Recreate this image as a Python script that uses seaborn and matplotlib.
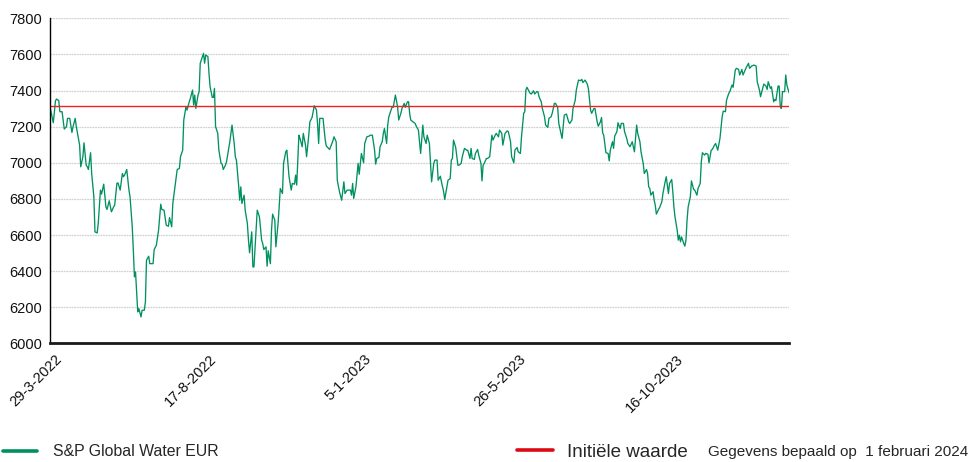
import pandas as pd
import seaborn as sns
import matplotlib.pyplot as plt
from matplotlib.lines import Line2D
from matplotlib.transforms import ScaledTranslation

days_2022a = [0, 3, 5, 6, 8, 9, 11, 13, 15, 16, 18, 20, 21, 23, 24, 27, 28, 30, 31, 33, 34, 35, 37, 38,
              40, 41, 43, 44, 46, 47, 49, 51, 52, 54, 56, 58, 59, 61, 62, 64, 66, 67, 68, 70, 72, 73,
              75, 76, 77, 78, 80, 81, 83, 84, 86, 87, 88, 90, 91, 94, 95, 97, 99, 101, 102, 104, 106,
              108, 109, 111, 112, 115, 116, 118, 119, 121, 122, 124, 125, 127, 128, 130, 131, 132, 133,
              135, 136, 137, 139, 140, 141, 142, 144, 145, 146, 148, 149, 150, 151, 153, 154, 156, 157,
              158, 160, 161, 164]
vals_2022a = [7310, 7222, 7344, 7353, 7344, 7283, 7283, 7187, 7200, 7246, 7246, 7168, 7200, 7246, 7200,
              7098, 6978, 7034, 7111, 6987, 6978, 6963, 7056, 6941, 6812, 6618, 6612, 6664, 6849, 6827,
              6882, 6756, 6742, 6790, 6729, 6756, 6766, 6886, 6889, 6849, 6941, 6923, 6932, 6963, 6849,
              6812, 6646, 6516, 6369, 6396, 6175, 6193, 6147, 6184, 6184, 6230, 6461, 6483, 6442, 6442,
              6520, 6544, 6627, 6771, 6742, 6738, 6655, 6649, 6697, 6646, 6775, 6913, 6963, 6969, 7034,
              7070, 7237, 7311, 7292, 7338, 7357, 7403, 7320, 7375, 7301, 7375, 7394, 7551, 7588, 7606,
              7551, 7597, 7588, 7495, 7421, 7362, 7362, 7412, 7200, 7163, 7070, 6997, 6993, 6963, 6987,
              7006, 7117]

days_2022b = [166, 168, 169, 170, 172, 173, 174, 175, 177, 178, 180, 181, 182, 184, 185, 186, 188, 189,
              191, 193, 194, 195, 197, 198, 199, 201, 202, 203, 205, 206, 208, 209, 210, 212, 213, 215,
              216, 218, 220, 221, 223, 224, 225, 227, 228, 230, 231, 233, 234, 236, 237, 239, 240, 241,
              243, 244, 245, 246, 247, 249, 251, 252, 254, 255, 257, 258, 259, 261, 262, 264, 266, 268,
              269, 271, 272, 274, 275, 276, 277, 279, 281, 282, 284, 286, 287, 289, 291, 292, 294, 296,
              297, 298, 300, 301, 303, 304, 305, 307, 308, 309]
vals_2022b = [7209, 7107, 7034, 7015, 6877, 6793, 6867, 6775, 6821, 6738, 6664, 6572, 6502, 6618, 6424,
              6424, 6627, 6738, 6701, 6572, 6553, 6520, 6535, 6428, 6513, 6442, 6627, 6716, 6683, 6535,
              6664, 6756, 6858, 6830, 6997, 7061, 7070, 6923, 6849, 6886, 6882, 6932, 6877, 7153, 7135,
              7089, 7163, 7098, 7034, 7153, 7227, 7251, 7283, 7316, 7292, 7218, 7107, 7246, 7246, 7246,
              7126, 7093, 7080, 7074, 7107, 7122, 7144, 7117, 6904, 6840, 6793, 6895, 6830, 6849, 6849,
              6849, 6821, 6886, 6803, 6867, 6997, 6937, 7052, 7000, 7107, 7144, 7148, 7153, 7153, 7070,
              6993, 7024, 7030, 7089, 7117, 7163, 7190, 7107, 7209, 7255]

days_2023a = [312, 313, 315, 317, 318, 320, 321, 323, 324, 326, 327, 328, 329, 331, 333, 334, 336, 338,
              339, 340, 341, 343, 344, 346, 347, 348, 350, 351, 353, 354, 356, 357, 359, 360, 362, 363,
              365, 366, 367, 368, 370, 372, 373, 375, 376, 378, 380, 381, 383, 384, 385, 387, 388, 390,
              391, 393, 394, 395, 396, 398, 399, 401, 403, 404, 406, 407, 409, 410, 412, 413, 415, 417,
              418, 420, 421, 423, 424, 426, 427, 429, 430, 432, 433, 434, 435, 437, 438, 439, 441, 442,
              444, 445, 446, 448, 449, 451, 452, 454, 455, 457, 458, 460, 461, 463, 464, 466, 467, 468,
              469, 471, 473, 474, 476, 477, 479, 480, 482, 484, 485, 486, 488, 490, 491]
vals_2023a = [7310, 7307, 7375, 7310, 7237, 7274, 7301, 7329, 7307, 7338, 7338, 7274, 7237, 7227, 7218,
              7203, 7181, 7052, 7126, 7209, 7144, 7107, 7153, 7107, 6997, 6895, 6997, 7015, 7015, 6904,
              6926, 6895, 6840, 6797, 6867, 6904, 6913, 7015, 7024, 7126, 7085, 6987, 6987, 6997, 7034,
              7080, 7070, 7070, 7024, 7080, 7024, 7019, 7052, 7074, 7043, 6997, 6900, 6987, 6997, 7024,
              7024, 7034, 7153, 7126, 7153, 7163, 7144, 7181, 7163, 7098, 7163, 7177, 7172, 7117, 7034,
              7000, 7070, 7085, 7061, 7052, 7144, 7274, 7283, 7403, 7418, 7394, 7384, 7381, 7399, 7381,
              7394, 7394, 7366, 7338, 7301, 7255, 7209, 7196, 7246, 7255, 7274, 7329, 7329, 7307, 7218,
              7163, 7135, 7200, 7264, 7270, 7227, 7218, 7237, 7301, 7347, 7403, 7458, 7455, 7462, 7444,
              7458, 7436, 7412]

days_2023b = [493, 494, 496, 497, 499, 500, 502, 503, 504, 505, 507, 509, 510, 511, 513, 514, 515, 517,
              518, 520, 521, 523, 524, 526, 527, 529, 531, 532, 533, 535, 536, 538, 539, 541, 542, 544,
              545, 546, 547, 548, 550, 551, 552, 553, 555, 556, 558, 559, 561, 562, 563, 564, 565, 567,
              568, 569, 570, 572, 573, 574, 575, 576, 578, 579, 580, 581, 582, 584, 585, 587, 588, 590,
              591, 593, 594, 595, 597, 598, 600, 601, 603, 604, 606, 607, 609, 611, 613, 614, 616, 617,
              619, 620, 622, 623, 625, 626, 628, 629, 631, 632, 634, 635, 637, 638, 640, 642, 644, 645,
              647, 648, 650, 651, 653, 654, 655, 657, 658, 660, 661, 662, 664, 665, 666, 667, 668, 670,
              671, 672, 674]
vals_2023b = [7292, 7274, 7300, 7301, 7227, 7203, 7227, 7251, 7166, 7153, 7056, 7052, 7011, 7070, 7117,
              7080, 7148, 7172, 7222, 7190, 7218, 7218, 7172, 7135, 7107, 7089, 7117, 7089, 7061, 7209,
              7163, 7117, 7061, 6997, 6941, 6963, 6941, 6867, 6858, 6821, 6840, 6793, 6766, 6716, 6742,
              6753, 6784, 6830, 6895, 6923, 6877, 6830, 6886, 6908, 6840, 6756, 6701, 6627, 6572, 6599,
              6563, 6590, 6553, 6539, 6572, 6683, 6756, 6812, 6900, 6853, 6849, 6821, 6858, 6886, 7006,
              7056, 7043, 7052, 7048, 7000, 7070, 7074, 7098, 7107, 7070, 7135, 7255, 7286, 7283, 7347,
              7384, 7394, 7431, 7418, 7514, 7523, 7517, 7486, 7517, 7486, 7514, 7528, 7551, 7523, 7536,
              7541, 7536, 7449, 7403, 7366, 7412, 7436, 7425, 7406, 7449, 7412, 7421, 7338, 7351, 7344,
              7425, 7425, 7310, 7301, 7394, 7394, 7486, 7431, 7388]

initial_value = 7312
start_date = "29-3-2022"
end_date = "1-2-2024"
tick_labels = ["29-3-2022", "17-8-2022", "5-1-2023", "26-5-2023", "16-10-2023"]

GREEN = "#00915f"
RED = "#ee2020"

sns.set_style("white")
plt.rcParams["font.family"] = ["Liberation Sans", "DejaVu Sans"]

start = pd.to_datetime(start_date, format="%d-%m-%Y")
end = pd.to_datetime(end_date, format="%d-%m-%Y")
days = days_2022a + days_2022b + days_2023a + days_2023b
vals = vals_2022a + vals_2022b + vals_2023a + vals_2023b
df = pd.DataFrame({"datum": start + pd.to_timedelta(days, unit="D"), "koers": vals})

fig = plt.figure(figsize=(9.71, 4.62), dpi=100)
ax = fig.add_axes([0.0515, 0.2565, 0.7611, 0.7039])

sns.lineplot(data=df, x="datum", y="koers", ax=ax, color=GREEN, lw=0.95, estimator=None)
ax.axhline(initial_value, color=RED, lw=1.0)

ax.set_xlim(start, end)
ax.set_ylim(6000, 7800)
ax.set_yticks(range(6000, 7801, 200))
ax.set_xticks(pd.to_datetime(tick_labels, format="%d-%m-%Y"))
ax.set_xticklabels(tick_labels, rotation=45, ha="right", va="top")
ax.set_xlabel("")
ax.set_ylabel("")

ax.yaxis.grid(True, color="#d2d2d2", lw=0.9, ls=(0, (1.5, 0.6)))
ax.set_axisbelow(True)
for s in ["top", "right"]:
    ax.spines[s].set_visible(False)
ax.spines["left"].set_color("black")
ax.spines["left"].set_linewidth(1.0)
ax.spines["bottom"].set_color("#1a1a1a")
ax.spines["bottom"].set_linewidth(2.0)
ax.tick_params(axis="y", length=0, labelsize=10.5, pad=5.5, colors="#111111")
ax.tick_params(axis="x", length=0, labelsize=10.5, pad=6.0, colors="#111111")

# labels staan iets rechts van de tick
shift = ScaledTranslation(0.15, 0, fig.dpi_scale_trans)
for lbl in ax.get_xticklabels():
    lbl.set_transform(lbl.get_transform() + shift)

# legenda onderaan
leg_y = 1 - 452 / 462
g = Line2D([], [], color=GREEN, lw=2.6)
r = Line2D([], [], color="#dd0a14", lw=2.6)
fig.legend(handles=[g], labels=["S&P Global Water EUR"], loc="center left",
           bbox_to_anchor=(3 / 971, leg_y), frameon=False, fontsize=11.4,
           handlelength=2.15, handletextpad=1.0, borderpad=0, borderaxespad=0)
fig.legend(handles=[r], labels=["Initiële waarde"], loc="center left",
           bbox_to_anchor=(517 / 971, leg_y), frameon=False, fontsize=13.5,
           handlelength=1.9, handletextpad=0.75, borderpad=0, borderaxespad=0)
fig.text(708 / 971, leg_y, "Gegevens bepaald op  1 februari 2024", fontsize=11,
         va="center", ha="left")

fig.savefig("out.png", dpi=100)
